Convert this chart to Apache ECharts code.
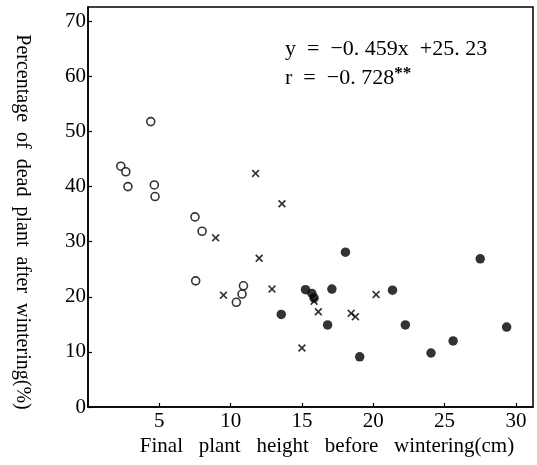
<!DOCTYPE html>
<html>
<head>
<meta charset="utf-8">
<script src="https://cdn.jsdelivr.net/npm/echarts@6/dist/echarts.min.js"></script>
<style>html,body{margin:0;padding:0;background:#fff}#c{width:537px;height:465px}</style>
</head>
<body>
<div id="c"></div>
<script>
// Open circles
const openCircles = [[2.3,43.7],[2.65,42.7],[2.8,40.0],[4.4,51.8],[4.65,40.3],[4.7,38.2],[7.5,34.5],[8.0,31.9],[7.55,22.9],[10.4,19.0],[10.8,20.5],[10.9,22.0]];
// Crosses
const crosses = [[11.75,42.4],[13.6,36.9],[8.95,30.7],[12.0,27.0],[9.5,20.3],[12.9,21.4],[15.85,19.2],[16.15,17.3],[18.45,17.0],[18.75,16.4],[15.0,10.7],[20.2,20.4]];
// Filled circles
const filledCircles = [[13.55,16.8],[18.05,28.1],[15.25,21.3],[15.7,20.6],[15.85,19.8],[17.1,21.4],[16.8,14.9],[21.35,21.2],[27.5,26.9],[22.25,14.9],[29.35,14.5],[25.6,12.0],[24.05,9.8],[19.05,9.1]];
const xTicks = [5,10,15,20,25,30];
const yTicks = [0,10,20,30,40,50,60,70];
const xName = 'Final   plant   height   before   wintering(cm)';
const yName = 'Percentage  of  dead  plant  after  wintering(%)';
const eqLine = 'y  =  −0. 459x  +25. 23';
const rLine = 'r  =  −0. 728';

const serif = '"Liberation Serif","DejaVu Serif",serif';
const chart = echarts.init(document.getElementById('c'));
const crossPath = 'path://M0,1.5L1.5,0L5,3.5L8.5,0L10,1.5L6.5,5L10,8.5L8.5,10L5,6.5L1.5,10L0,8.5L3.5,5Z';
chart.setOption({
  animation: false,
  backgroundColor: '#fff',
  grid: {left: 88, right: 4, top: 7, bottom: 58, show: true, borderColor: '#000', borderWidth: 1.5, backgroundColor: 'transparent'},
  xAxis: {
    type: 'value', min: 0, max: 31.2, interval: 5,
    splitLine: {show: false},
    axisLine: {show: true, lineStyle: {color: '#000', width: 1.5}},
    axisTick: {show: true, inside: true, length: 4, customValues: xTicks, lineStyle: {color: '#000', width: 1.2}},
    axisLabel: {customValues: xTicks, color: '#000', fontFamily: serif, fontSize: 21, margin: 4}
  },
  yAxis: {
    type: 'value', min: 0, max: 72.6, interval: 10,
    splitLine: {show: false},
    axisLine: {show: true, lineStyle: {color: '#000', width: 1.5}},
    axisTick: {show: true, inside: true, length: 4, customValues: yTicks, lineStyle: {color: '#000', width: 1.2}},
    axisLabel: {customValues: yTicks, color: '#000', fontFamily: serif, fontSize: 21, margin: 2}
  },
  graphic: [
    {type: 'text', x: 22, y: 222, rotation: -Math.PI/2,
     style: {text: yName, fill: '#000', font: '20px ' + serif, align: 'center', verticalAlign: 'middle'}},
    {type: 'text', x: 327, y: 446,
     style: {text: xName, fill: '#000', font: '21px ' + serif, align: 'center', verticalAlign: 'middle'}},
    {type: 'text', x: 285, y: 49,
     style: {text: eqLine, fill: '#000', font: '22px ' + serif, align: 'left', verticalAlign: 'middle'}},
    {type: 'text', x: 285, y: 78,
     style: {text: '{a|' + rLine + '}{b|**}', fill: '#000', align: 'left', verticalAlign: 'middle',
       rich: {a: {fontFamily: serif, fontSize: 22, fill: '#000'}, b: {fontFamily: serif, fontSize: 17, fontWeight: 'bold', fill: '#000', verticalAlign: 'top', padding: [0,0,8,0]}}}}
  ],
  series: [
    {type: 'scatter', data: openCircles, symbol: 'circle', symbolSize: 8,
     itemStyle: {color: '#fff', borderColor: '#000', borderWidth: 1.6}},
    {type: 'scatter', data: crosses, symbol: crossPath, symbolSize: 8,
     itemStyle: {color: '#000'}},
    {type: 'scatter', data: filledCircles, symbol: 'circle', symbolSize: 9.5,
     itemStyle: {color: '#000'}}
  ]
});
</script>
</body>
</html>
